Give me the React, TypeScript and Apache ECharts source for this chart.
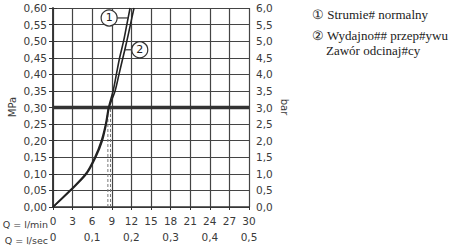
import React, { useEffect, useRef } from "react";
import * as echarts from "echarts";

// Pressure levels (MPa) at which flows are read
const pressureMPa = [0, 0.05, 0.1, 0.15, 0.2, 0.25, 0.3, 0.35, 0.4, 0.45, 0.5, 0.55, 0.6];
// Curve 1: Strumień normalny (l/min)
const flow1 = [0, 2.6, 5.0, 6.4, 7.4, 8.05, 8.5, 9.2, 9.7, 10.2, 10.8, 11.3, 11.8];
// Curve 2: Wydajność przepływu (l/min)
const flow2 = [0, 2.7, 5.15, 6.55, 7.55, 8.15, 8.6, 9.5, 10.1, 10.7, 11.3, 11.85, 12.4];
// Reference pressure line (MPa)
const refPressure = [0.3];
// Reference flow marks (l/min), dashed verticals up to refPressure
const refFlow = [8.4, 8.8];
// Annotation anchors: [curve index, pressure]
const annotations = [
  { label: "1", curve: 0, p: 0.57, side: "left" },
  { label: "2", curve: 1, p: 0.474, side: "right" },
];
const legendLines = ["① Strumie# normalny", "② Wydajno## przep#ywu", "Zawór odcinaj#cy"];

const fmt = (d: number) => (v: number) => v.toFixed(d).replace(".", ",");

export default function App() {
  const ref = useRef<HTMLDivElement>(null);
  useEffect(() => {
    if (!ref.current) return;
    const chart = echarts.init(ref.current, undefined, { renderer: "svg" });
    const axisFont = { fontFamily: "DejaVu Sans", fontSize: 10.5, color: "#3a3a3a" };
    const lineCol = "#333";
    const curves = [flow1, flow2];
    const series: any[] = curves.map((f) => ({
      type: "line",
      xAxisIndex: 0,
      yAxisIndex: 0,
      data: f.map((x, i) => [x, pressureMPa[i]]),
      smooth: 0.3,
      showSymbol: false,
      lineStyle: { color: "#222", width: 1.6 },
      z: 5,
    }));
    refPressure.forEach((p) =>
      series.push({
        type: "line",
        xAxisIndex: 0,
        yAxisIndex: 0,
        data: [[0, p], [30, p]],
        showSymbol: false,
        lineStyle: { color: "#333", width: 3.5 },
        z: 4,
      })
    );
    refFlow.forEach((x) =>
      series.push({
        type: "line",
        xAxisIndex: 0,
        yAxisIndex: 0,
        data: [[x, 0], [x, refPressure[0]]],
        showSymbol: false,
        lineStyle: { color: "#777", width: 1, type: [3, 2] },
        z: 3,
      })
    );
    chart.setOption({
      animation: false,
      grid: { left: 53, right: 201, top: 8, bottom: 41 },
      xAxis: [
        {
          type: "value",
          min: 0,
          max: 30,
          interval: 3,
          position: "bottom",
          axisLine: { lineStyle: { color: lineCol, width: 1.5 } },
          axisTick: { show: true, length: 3, lineStyle: { color: lineCol } },
          splitLine: { show: true, lineStyle: { color: "#444", width: 1.2 } },
          axisLabel: { ...axisFont, margin: 8 },
        },
        {
          type: "value",
          min: 0,
          max: 0.5,
          interval: 0.1,
          position: "bottom",
          offset: 16,
          axisLine: { show: false },
          axisTick: { show: false },
          splitLine: { show: false },
          axisLabel: { ...axisFont, margin: 8, formatter: (v: number) => (v === 0 ? "0" : fmt(1)(v)) },
        },
      ],
      yAxis: [
        {
          type: "value",
          min: 0,
          max: 0.6,
          interval: 0.05,
          position: "left",
          axisLine: { show: true, lineStyle: { color: lineCol, width: 1.5 } },
          axisTick: { show: true, length: 4, lineStyle: { color: lineCol } },
          splitLine: { show: true, lineStyle: { color: "#444", width: 1.2 } },
          axisLabel: { ...axisFont, margin: 6, formatter: fmt(2) },
        },
        {
          type: "value",
          min: 0,
          max: 6,
          interval: 0.5,
          position: "right",
          axisLine: { show: true, lineStyle: { color: lineCol, width: 1.5 } },
          axisTick: { show: true, length: 4, lineStyle: { color: lineCol } },
          splitLine: { show: false },
          axisLabel: { ...axisFont, margin: 7, formatter: fmt(1) },
        },
      ],
      series,
    });

    const interp = (f: number[], p: number) => {
      for (let i = 1; i < pressureMPa.length; i++) {
        if (p <= pressureMPa[i]) {
          const t = (p - pressureMPa[i - 1]) / (pressureMPa[i] - pressureMPa[i - 1]);
          return f[i - 1] + t * (f[i] - f[i - 1]);
        }
      }
      return f[f.length - 1];
    };
    const graphic: any[] = [];
    annotations.forEach((a) => {
      const pt = chart.convertToPixel({ xAxisIndex: 0, yAxisIndex: 0 }, [interp(curves[a.curve], a.p), a.p]) as number[];
      const r = 8;
      const cx = a.side === "left" ? pt[0] - 19 : pt[0] + 15;
      graphic.push({
        type: "line",
        shape: { x1: pt[0], y1: pt[1], x2: a.side === "left" ? cx + r : cx - r, y2: pt[1] },
        style: { stroke: "#333", lineWidth: 1.2 },
        z: 10,
      });
      graphic.push({
        type: "circle",
        shape: { cx, cy: pt[1], r },
        style: { fill: "#fff", stroke: "#333", lineWidth: 1.2 },
        z: 10,
      });
      graphic.push({
        type: "text",
        x: cx,
        y: pt[1],
        style: { text: a.label, fontFamily: "DejaVu Sans", fontSize: 11, fill: "#222", align: "center", verticalAlign: "middle" },
        z: 11,
      });
    });
    graphic.push(
      { type: "text", x: 12, y: 107, rotation: Math.PI / 2, style: { text: "MPa", fontFamily: "DejaVu Sans", fontSize: 10, fill: "#3a3a3a", align: "center", verticalAlign: "middle" } },
      { type: "text", x: 284, y: 107, rotation: -Math.PI / 2, style: { text: "bar", fontFamily: "DejaVu Sans", fontSize: 10, fill: "#3a3a3a", align: "center", verticalAlign: "middle" } },
      { type: "text", x: 48, y: 224, style: { text: "Q = l/min", fontFamily: "DejaVu Sans", fontSize: 9.5, fill: "#3a3a3a", align: "right", verticalAlign: "middle" } },
      { type: "text", x: 48, y: 240, style: { text: "Q = l/sec", fontFamily: "DejaVu Sans", fontSize: 9.5, fill: "#3a3a3a", align: "right", verticalAlign: "middle" } }
    );
    const ly = [14, 35, 50];
    legendLines.forEach((t, i) => {
      graphic.push({
        type: "text",
        x: i === 2 ? 326 : 312,
        y: ly[i],
        style: { text: t, fontFamily: "Liberation Serif, DejaVu Serif, serif", fontSize: 13, fill: "#222", verticalAlign: "middle" },
      });
    });
    chart.setOption({ graphic });
    return () => chart.dispose();
  }, []);
  return <div ref={ref} style={{ width: 450, height: 248, position: "absolute", left: 0, top: 0 }} />;
}
